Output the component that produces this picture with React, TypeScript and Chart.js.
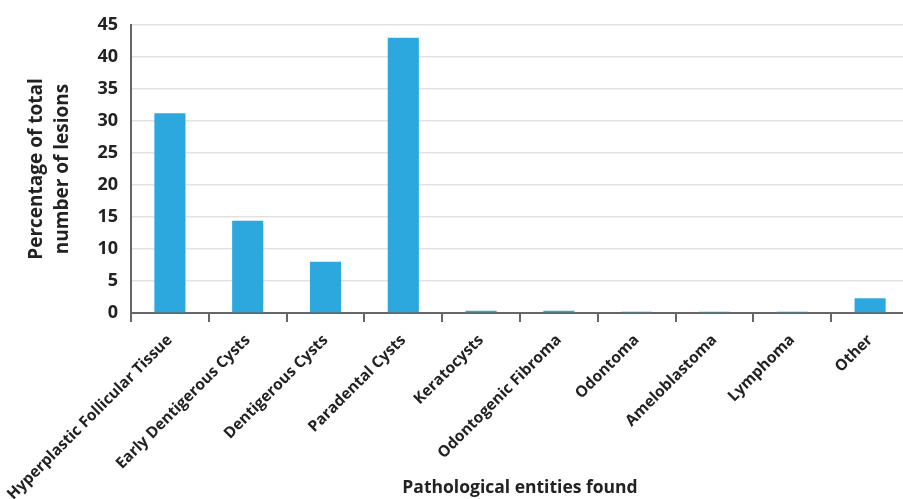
import React, { useEffect, useRef } from "react";
import { Chart, registerables } from "chart.js";

Chart.register(...registerables);

const categories = [
  "Hyperplastic Follicular Tissue",
  "Early Dentigerous Cysts",
  "Dentigerous Cysts",
  "Paradental Cysts",
  "Keratocysts",
  "Odontogenic Fibroma",
  "Odontoma",
  "Ameloblastoma",
  "Lymphoma",
  "Other",
];
const percentages = [31.2, 14.4, 8.0, 43.0, 0.35, 0.35, 0.2, 0.2, 0.2, 2.3];
const yTitle = ["Percentage of total", "number of lesions"];
const xTitle = "Pathological entities found";

const FONT = "'Open Sans', 'Noto Sans', sans-serif";

export default function App() {
  const ref = useRef<HTMLCanvasElement | null>(null);
  useEffect(() => {
    if (!ref.current) return;
    const chart = new Chart(ref.current, {
      type: "bar",
      data: {
        labels: categories,
        datasets: [
          {
            data: percentages,
            backgroundColor: "#2DA8DF",
            barPercentage: 0.4,
            categoryPercentage: 1,
          },
        ],
      },
      options: {
        animation: false,
        responsive: true,
        maintainAspectRatio: false,
        layout: { padding: { top: 25, right: 1, left: 0, bottom: 0 } },
        plugins: { legend: { display: false }, tooltip: { enabled: false } },
        scales: {
          x: {
            offset: true,
            afterFit: (scale: any) => {
              scale.paddingLeft = 0;
              scale.paddingRight = 0;
              scale.height = 186;
            },
            grid: {
              offset: true,
              drawOnChartArea: false,
              drawTicks: true,
              tickLength: 9,
              color: "#666",
              lineWidth: 2,
            },
            border: { color: "#666", width: 2 },
            ticks: {
              maxRotation: 45,
              minRotation: 45,
              autoSkip: false,
              color: "#222",
              font: { family: FONT, size: 15.5, weight: "bold" },
              padding: 9,
            },
            title: {
              display: true,
              text: xTitle,
              color: "#222",
              font: { family: FONT, size: 17.5, weight: "bold" },
              padding: { top: 0, bottom: 0 },
            },
          },
          y: {
            min: 0,
            max: 45,
            afterFit: (scale: any) => {
              scale.width = 131;
            },
            ticks: {
              stepSize: 5,
              color: "#222",
              font: { family: FONT, size: 18, weight: "bold" },
              padding: 13,
            },
            grid: {
              color: "#e2e2e2",
              lineWidth: 1.5,
              drawTicks: false,
            },
            border: { color: "#666", width: 2 },
            title: {
              display: true,
              text: yTitle,
              color: "#222",
              font: { family: FONT, size: 19, weight: "bold", lineHeight: 1.37 },
              padding: { top: 24, bottom: 0 },
            },
          },
        },
      },
    });
    return () => chart.destroy();
  }, []);
  return (
    <div style={{ position: "fixed", left: 0, top: 0, width: 903, height: 499, overflow: "hidden", background: "#fff" }}>
      <div style={{ position: "absolute", left: 0, top: 0, width: 910, height: 499 }}>
        <canvas ref={ref} />
      </div>
    </div>
  );
}
